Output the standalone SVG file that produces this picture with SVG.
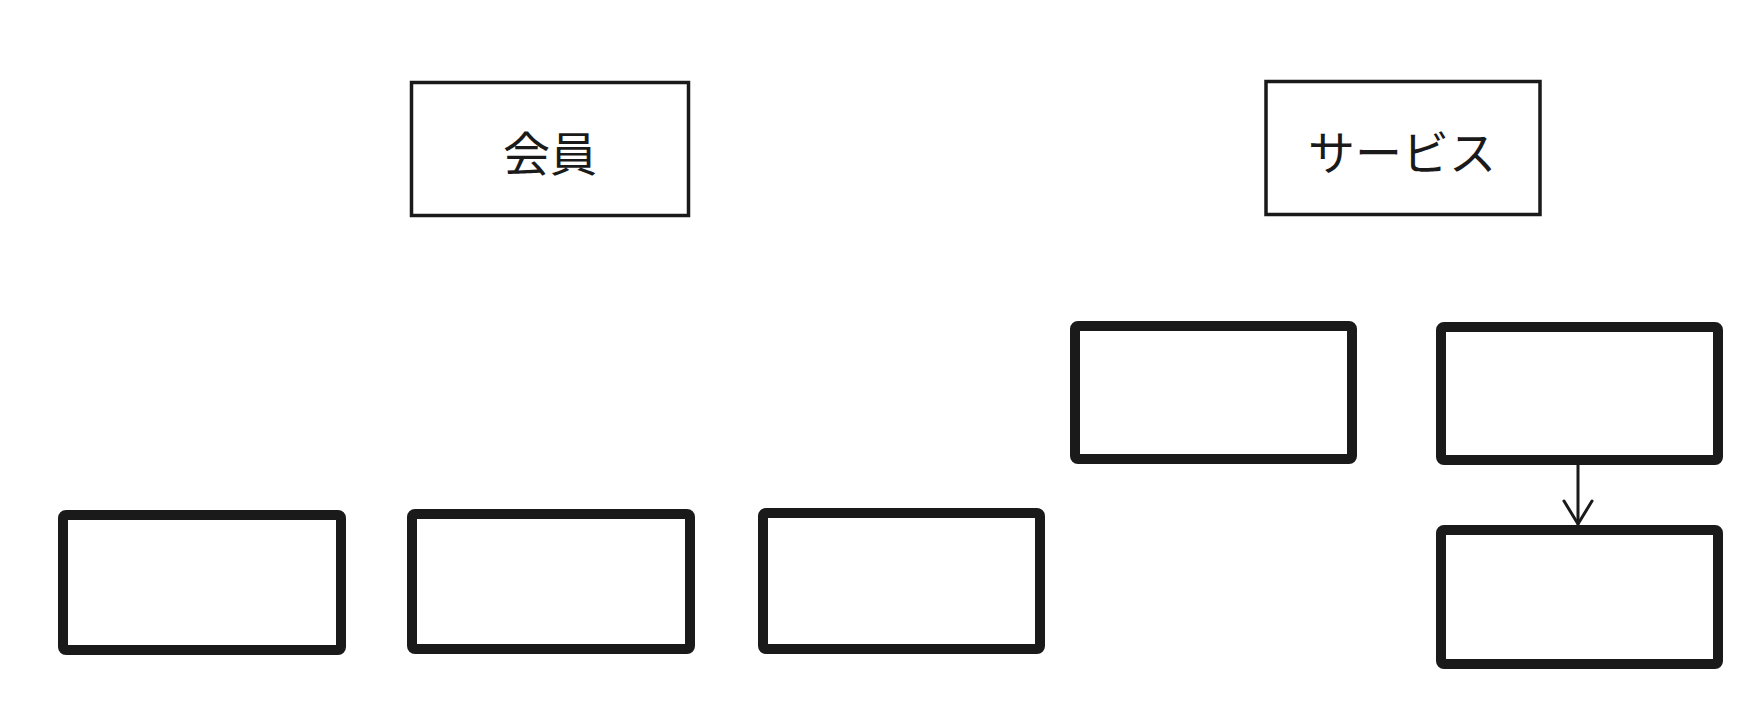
<svg xmlns="http://www.w3.org/2000/svg" width="1760" height="704" viewBox="0 0 1760 704">
<defs>
<style>
.thin{fill:#fff;stroke:#1a1a1a;stroke-width:3.5}
.thick{fill:#fff;stroke:#1a1a1a;stroke-width:10}
.lbl{font-family:"Noto Sans CJK JP","Noto Sans CJK SC",sans-serif;font-size:47px;fill:#1a1a1a;text-anchor:middle;dominant-baseline:central}
.conn{fill:none;stroke:#1a1a1a;stroke-width:3;stroke-linecap:round;stroke-linejoin:round}
</style>
</defs>
<rect width="1760" height="704" fill="#fff"/>
<g id="member">
<rect class="thin" x="411.5" y="82.5" width="277" height="133"/>
<text class="lbl" x="550" y="150">会員</text>
</g>
<g id="service">
<rect class="thin" x="1266" y="81.5" width="274" height="133"/>
<text class="lbl" x="1402" y="149">サービス</text>
</g>
<g id="box-mid-top">
<rect class="thick" x="1075" y="326" width="277" height="133" rx="3"/>
</g>
<g id="box-right-top">
<rect class="thick" x="1441" y="327" width="277" height="133" rx="3"/>
</g>
<g id="box-right-bottom">
<rect class="thick" x="1441" y="530" width="277" height="134" rx="3"/>
</g>
<g id="box-bottom-1">
<rect class="thick" x="63" y="515" width="278" height="135" rx="3"/>
</g>
<g id="box-bottom-2">
<rect class="thick" x="412" y="514" width="278" height="135" rx="3"/>
</g>
<g id="box-bottom-3">
<rect class="thick" x="763" y="513" width="277" height="136" rx="3"/>
</g>
<g id="connectors">
<line class="conn" x1="1578" y1="465" x2="1578" y2="524"/>
<polyline class="conn" points="1564,501 1578,524 1592,501"/>
</g>
</svg>
